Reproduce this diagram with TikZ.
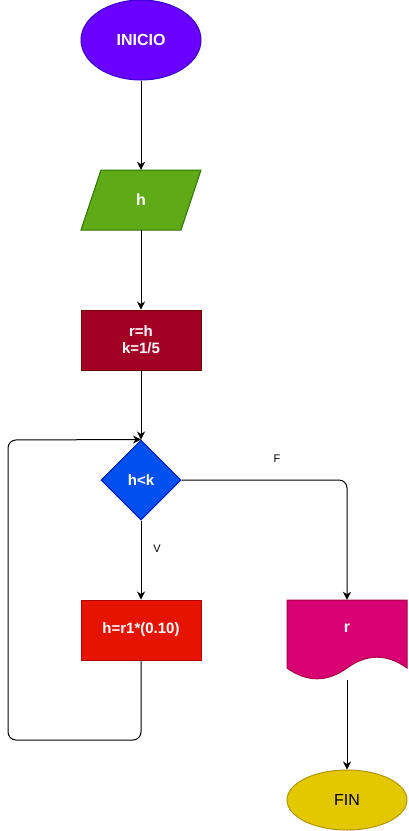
\documentclass[tikz,border=0pt]{standalone}
\usepackage{fontspec}
\setmainfont{Liberation Sans}
\usetikzlibrary{shapes.geometric,arrows.meta}
\definecolor{cInicio}{HTML}{6A00FF}\definecolor{bInicio}{HTML}{3700CC}
\definecolor{cH}{HTML}{60A917}\definecolor{bH}{HTML}{2D7600}
\definecolor{cRH}{HTML}{A20025}\definecolor{bRH}{HTML}{6F0000}
\definecolor{cDia}{HTML}{0050EF}\definecolor{bDia}{HTML}{001DBC}
\definecolor{cHR}{HTML}{E51400}\definecolor{bHR}{HTML}{B20000}
\definecolor{cDoc}{HTML}{D80073}\definecolor{bDoc}{HTML}{A50040}
\definecolor{cFin}{HTML}{E3C800}\definecolor{bFin}{HTML}{B09500}
\tikzset{
  fs/.style={font=\fontsize{#1}{17}\selectfont},
  fsb/.style={font=\fontsize{#1}{17}\selectfont\bfseries},
  term/.style={ellipse, minimum width=120pt, inner sep=0pt, line width=1pt},
  procbox/.style={rectangle, minimum width=120pt, minimum height=60pt, inner sep=0pt, line width=1pt, text=white, align=center},
  frame/.style={rectangle, inner sep=0pt},
  conn/.style={draw=black, line width=1pt, -{Stealth[length=8pt,width=8pt,inset=2.5pt]}},
  lbl/.style={font=\fontsize{11}{13}\selectfont, text=black}
}
\begin{document}
\begin{tikzpicture}[x=1pt,y=-1pt]
\useasboundingbox (0,0) rectangle (408,831);
% INICIO
\node[term, minimum height=80pt, fill=cInicio, draw=bInicio, text=white, fsb=16] (inicio) at (141,40) {INICIO};
% parallelogram h
\fill[cH, draw=bH, line width=1pt] (81,230) -- (101,170) -- (201,170) -- (181,230) -- cycle;
\node[frame, minimum width=120pt, minimum height=60pt, text=white, fsb=16] (h) at (141,200) {h};
% r=h
\node[procbox, fill=cRH, draw=bRH, fsb=15] (rh) at (141,340) {r=h\\k=1/5};
% decision
\node[diamond, minimum width=80pt, minimum height=80pt, inner sep=0pt, aspect=1, fill=cDia, draw=bDia, line width=1pt, text=white, fsb=15] (dia) at (141,480) {h<k};
% h=r1*(0.10)
\node[procbox, fill=cHR, draw=bHR, fsb=15] (hr) at (141,630) {h=r1*(0.10)};
% document r
\fill[cDoc, draw=bDoc, line width=1pt] (287,600) -- (407,600) -- (407,668)
   .. controls (387,653.6) and (367,653.6) .. (347,668)
   .. controls (327,682.4) and (307,682.4) .. (287,668) -- cycle;
\node[frame, minimum width=120pt, minimum height=80pt,
      label={[yshift=12pt, text=white, fsb=16]center:r}] (doc) at (347,640) {};
% FIN
\node[term, minimum height=60pt, fill=cFin, draw=bFin, text=black, fs=16] (fin) at (347,800) {FIN};
% coordinates
\coordinate (lpb) at (141,740);
\coordinate (lpl) at (8,740);
\coordinate (lpt) at (8,440);
% connectors
\draw[conn] (inicio.south) -- (h.north);
\draw[conn] (h.south) -- (rh.north);
\draw[conn] (rh.south) -- (dia.north);
\draw[conn] (dia.south) -- (hr.north);
\draw[conn, rounded corners=8pt] (dia.east) -| (doc.north);
\draw[conn, rounded corners=8pt] (hr.south) -- (lpb) -- (lpl) -- (lpt) -- (dia.north);
\draw[conn] (doc.south) -- (fin.north);
% labels
\node[lbl] (lf) at (277,459) {F};
\node[lbl] (lv) at (157,549) {V};
\end{tikzpicture}
\end{document}
